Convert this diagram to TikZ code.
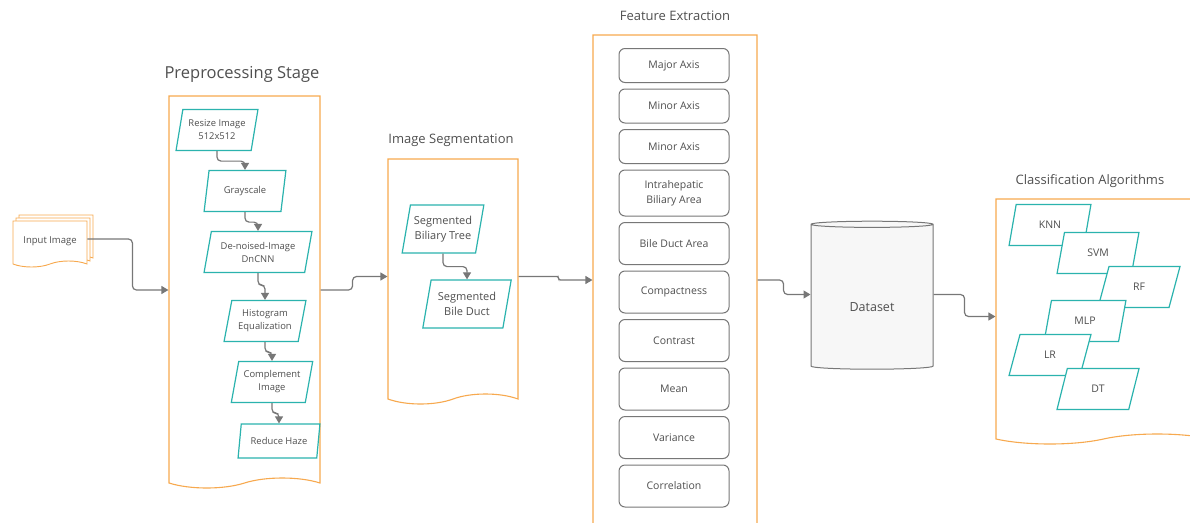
\documentclass[tikz,border=0pt]{standalone}
\usepackage{fontspec}
\setmainfont{Open Sans}
\usetikzlibrary{arrows.meta,positioning,shapes.geometric,shapes.symbols,shadows}
\definecolor{stageorange}{HTML}{F7A94F}
\definecolor{stepteal}{HTML}{2BB3AE}
\definecolor{linkgray}{HTML}{777777}
\definecolor{textgray}{HTML}{4F4F4F}
\definecolor{drumfill}{HTML}{F7F7F7}

\begin{document}
\begin{tikzpicture}[
  x=1pt, y=-1pt,
  node distance=5.5pt,
  stage/.style={
    tape,
    tape bend top=none,
    tape bend bottom=in and out,
    tape bend height=10pt,
    draw=stageorange,
    line width=1.1pt,
    fill=white
  },
  sheet/.style={
    stage,
    line width=0.9pt,
    tape bend height=6pt,
    minimum width=74,
    minimum height=46,
    text=textgray,
    font=\fontsize{9.5}{12}\selectfont,
    double copy shadow={shadow xshift=3pt, shadow yshift=3pt, draw=stageorange, fill=white}
  },
  stagetitle/.style={
    text=textgray,
    font=\fontsize{13}{15}\selectfont
  },
  stepbox/.style={
    trapezium,
    trapezium left angle=75,
    trapezium right angle=105,
    trapezium stretches,
    draw=stepteal,
    line width=1.2pt,
    fill=white,
    text=textgray,
    align=center,
    inner sep=1pt,
    minimum width=82,
    minimum height=41,
    font=\fontsize{9.4}{13}\selectfont
  },
  feature/.style={
    rectangle,
    rounded corners=6pt,
    draw=linkgray,
    line width=1pt,
    text=textgray,
    align=center,
    minimum width=110,
    minimum height=42,
    font=\fontsize{10.5}{15}\selectfont
  },
  link/.style={
    draw=linkgray,
    line width=1.2pt,
    rounded corners=4pt,
    -{Triangle[length=7pt,width=8pt]}
  }
]

\useasboundingbox (0,0) rectangle (1190,522);
\clip (0,0) rectangle (1190,522);

% stage frames
\node[stage, minimum width=151, minimum height=392] (prep) at (244.5,287) {};
\node[stage, minimum width=130, minimum height=245] (seg) at (453,276.5) {};
\node[stage, minimum width=164, minimum height=500] (feat) at (675,280) {};
\node[stage, minimum width=215, minimum height=245] (classif) at (1103.5,316.5) {};

\node[stagetitle, font=\fontsize{16.5}{19}\selectfont] (preptitle) at (242,74) {Preprocessing Stage};
\node[stagetitle] (segtitle) at (451,140) {Image Segmentation};
\node[stagetitle] (feattitle) at (675,16) {Feature Extraction};
\node[stagetitle] (classiftitle) at (1090,181) {Classification Algorithms};

% input
\node[sheet] (input) at (50,241) {Input Image};

% preprocessing steps
\node[stepbox] (resize) at (217,130) {Resize Image\\512x512};
\node[stepbox] (gray) at (245,191) {Grayscale};
\node[stepbox, minimum width=108] (denoise) at (258,252) {De-noised-Image\\DnCNN};
\node[stepbox] (histeq) at (265,321) {Histogram\\Equalization};
\node[stepbox] (complement) at (272,382) {Complement\\Image};
\node[stepbox, minimum height=34] (haze) at (279,441) {Reduce Haze};

% segmentation steps
\node[stepbox, minimum height=48, font=\fontsize{11}{15.5}\selectfont] (tree) at (443,229) {Segmented\\Biliary Tree};
\node[stepbox, minimum width=89, minimum height=48, font=\fontsize{11}{15.5}\selectfont] (duct) at (467,304) {Segmented\\Bile Duct};

% features
\node[feature, minimum height=34] (major) at (674,65.5) {Major Axis};
\node[feature, minimum height=34, below=of major] (minorA) {Minor Axis};
\node[feature, minimum height=34, below=of minorA] (minorB) {Minor Axis};
\node[feature, minimum height=46, below=of minorB] (intra) {Intrahepatic\\Biliary Area};
\node[feature, below=of intra] (bilearea) {Bile Duct Area};
\node[feature, below=of bilearea] (compact) {Compactness};
\node[feature, below=of compact] (contrast) {Contrast};
\node[feature, below=of contrast] (mean) {Mean};
\node[feature, below=of mean] (variance) {Variance};
\node[feature, below=of variance] (correl) {Correlation};

% dataset
\node[cylinder, shape border rotate=90, aspect=0.12, draw=linkgray, line width=1pt,
  fill=drumfill, minimum width=122, minimum height=148, text=textgray,
  font=\fontsize{12.5}{15}\selectfont] (dataset) at (872,297.5) {\raisebox{-14pt}[0pt][0pt]{Dataset}};

% classifiers
\tikzset{algo/.style={stepbox, font=\fontsize{10.5}{13}\selectfont}}
\node[algo] (knn) at (1050,225) {KNN};
\node[algo] (svm) at (1098,253) {SVM};
\node[algo] (rf) at (1139,287) {RF};
\node[algo] (mlp) at (1085,321) {MLP};
\node[algo] (lr) at (1050,355) {LR};
\node[algo] (dt) at (1098,389) {DT};

% links inside stages
\draw[link] (resize.south) -- ++(0,10) -| (gray.north);
\draw[link] (gray.south) -- ++(0,10) -| (denoise.north);
\draw[link] (denoise.south) -- ++(0,12) -| (histeq.north);
\draw[link] (histeq.south) -- ++(0,10) -| (complement.north);
\draw[link] (complement.south) -- ++(0,10) -| (haze.north);
\draw[link] (tree.south) -- ++(0,13) -| (duct.north);

% links between stages
\draw[link] ([yshift=2pt]input.east) -- ++(45,0) |- ([yshift=-3pt]prep.west);
\draw[link] ([yshift=-3pt]prep.east) -- ++(32,0) |- (seg.west);
\draw[link, rounded corners=2pt] (seg.east) -- ++(40,0) |- (feat.west);
\draw[link] (feat.east) -- ++(26,0) |- ([yshift=3pt]dataset.west);
\draw[link] ([yshift=3pt]dataset.east) -- ++(31,0) |- (classif.west);

\end{tikzpicture}
\end{document}
